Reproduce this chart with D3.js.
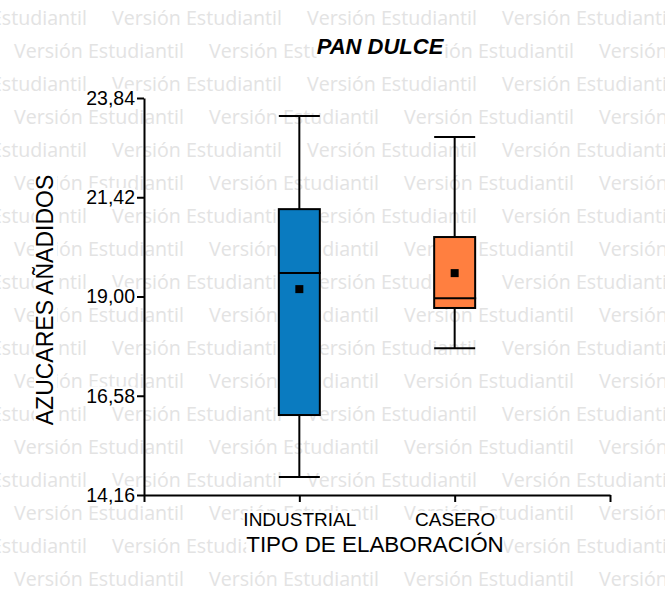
<!DOCTYPE html>
<html>
<head>
<meta charset="utf-8">
<script src="https://cdn.jsdelivr.net/npm/d3@7"></script>
<style>
  html, body { margin: 0; padding: 0; background: #fff; }
  svg { display: block; }
</style>
</head>
<body>
<div id="chart"></div>
<script>
// ---- Data ----
const title = "PAN DULCE";
const xTitle = "TIPO DE ELABORACIÓN";
const yTitle = "AZUCARES AÑADIDOS";
const categories = ["INDUSTRIAL", "CASERO"];
const whiskerLow  = [14.60, 17.74];
const q1          = [16.11, 18.72];
const median      = [19.57, 18.96];
const q3          = [21.13, 20.45];
const whiskerHigh = [23.40, 22.89];
const mean        = [19.18, 19.57];
const boxColors   = ["#0a7bc0", "#ff7f40"];
const yTicks      = [14.16, 16.58, 19.00, 21.42, 23.84];
const watermarkText = "Versión Estudiantil";

// ---- Setup ----
const W = 665, H = 592;
const svg = d3.select("#chart").append("svg").attr("width", W).attr("height", H);
svg.append("rect").attr("width", W).attr("height", H).attr("fill", "#fff");

// ---- Watermark ----
const wm = svg.append("g").attr("fill", "#e3e3e3")
  .style("font-family", "'Open Sans', sans-serif").style("font-size", "19.5px");
const period = 195;
for (let k = 0; k < 18; k++) {
  const yb = 25 + 33 * k;
  const start = (k % 2 === 0) ? 112 - period : 14 - period;
  for (let x = start; x < W; x += period) {
    wm.append("text").attr("x", x).attr("y", yb)
      .attr("textLength", 170).attr("lengthAdjust", "spacingAndGlyphs")
      .text(watermarkText);
  }
}

// ---- Scales ----
const y = d3.scaleLinear().domain([yTicks[0], yTicks[yTicks.length - 1]]).range([495, 98]);
const x = d3.scaleLinear().domain([0, categories.length + 1]).range([144, 610]);

const font = "'Liberation Sans', Arial, sans-serif";

function addBg(sel) {
  sel.each(function () {
    const b = this.getBBox();
    d3.select(this.parentNode).insert("rect", () => this)
      .attr("x", b.x).attr("y", b.y + 2).attr("width", b.width).attr("height", b.height - 3)
      .attr("fill", "#fff");
  });
}

// ---- Boxes ----
const bw = 41;
const boxes = svg.append("g");
categories.forEach((c, i) => {
  const cx = x(i + 1);
  const g = boxes.append("g");
  // whiskers
  g.append("line").attr("x1", cx).attr("x2", cx).attr("y1", y(whiskerHigh[i])).attr("y2", y(q3[i]))
    .attr("stroke", "#000").attr("stroke-width", 2);
  g.append("line").attr("x1", cx).attr("x2", cx).attr("y1", y(q1[i])).attr("y2", y(whiskerLow[i]))
    .attr("stroke", "#000").attr("stroke-width", 2);
  g.append("line").attr("x1", cx - bw / 2).attr("x2", cx + bw / 2).attr("y1", y(whiskerHigh[i])).attr("y2", y(whiskerHigh[i]))
    .attr("stroke", "#000").attr("stroke-width", 2);
  g.append("line").attr("x1", cx - bw / 2).attr("x2", cx + bw / 2).attr("y1", y(whiskerLow[i])).attr("y2", y(whiskerLow[i]))
    .attr("stroke", "#000").attr("stroke-width", 2);
  // box
  g.append("rect").attr("x", cx - bw / 2).attr("y", y(q3[i]))
    .attr("width", bw).attr("height", y(q1[i]) - y(q3[i]))
    .attr("fill", boxColors[i]).attr("stroke", "#000").attr("stroke-width", 2);
  // median
  g.append("line").attr("x1", cx - bw / 2).attr("x2", cx + bw / 2 + 1).attr("y1", y(median[i])).attr("y2", y(median[i]))
    .attr("stroke", "#000").attr("stroke-width", 2);
  // mean
  g.append("rect").attr("x", cx - 4).attr("y", y(mean[i]) - 4).attr("width", 8).attr("height", 8)
    .attr("fill", "#000");
});

// ---- Axes ----
const yAxis = d3.axisLeft(y).tickValues(yTicks).tickSize(7).tickSizeOuter(0).tickPadding(2)
  .tickFormat(d => d3.format(".2f")(d).replace(".", ","));
const gy = svg.append("g").attr("transform", "translate(144,0)").call(yAxis);
gy.selectAll("path, line").attr("stroke", "#000").attr("stroke-width", 2);
gy.selectAll("text").attr("fill", "#000").style("font-family", font).style("font-size", "19.5px");
addBg(gy.selectAll("text"));

const xAxis = d3.axisBottom(x).tickValues(d3.range(0, categories.length + 2)).tickSize(7).tickSizeOuter(0)
  .tickFormat(d => (d >= 1 && d <= categories.length) ? categories[d - 1] : "");
const gx = svg.append("g").attr("transform", "translate(0,495)").call(xAxis);
gx.selectAll("path, line").attr("stroke", "#000").attr("stroke-width", 2);
gx.selectAll("text").attr("fill", "#000").attr("y", 31).attr("dy", 0)
  .style("font-family", font).style("font-size", "19px");
addBg(gx.selectAll("text").filter(d => d >= 1 && d <= categories.length));

// ---- Titles ----
const tg = svg.append("g");
const tt = tg.append("text").attr("x", 380).attr("y", 54).attr("text-anchor", "middle")
  .style("font-family", font).style("font-size", "22px").style("font-weight", "bold").style("font-style", "italic")
  .attr("fill", "#000").text(title);
addBg(tt);

const xt = tg.append("text").attr("x", 375).attr("y", 552).attr("text-anchor", "middle")
  .style("font-family", font).style("font-size", "22.4px").attr("fill", "#000").text(xTitle);
addBg(xt);

const yg = svg.append("g").attr("transform", "translate(53,300) rotate(-90)");
const yt = yg.append("text").attr("x", 0).attr("y", 0).attr("text-anchor", "middle")
  .style("font-family", font).style("font-size", "23px").attr("fill", "#000").text(yTitle);
addBg(yt);
</script>
</body>
</html>
